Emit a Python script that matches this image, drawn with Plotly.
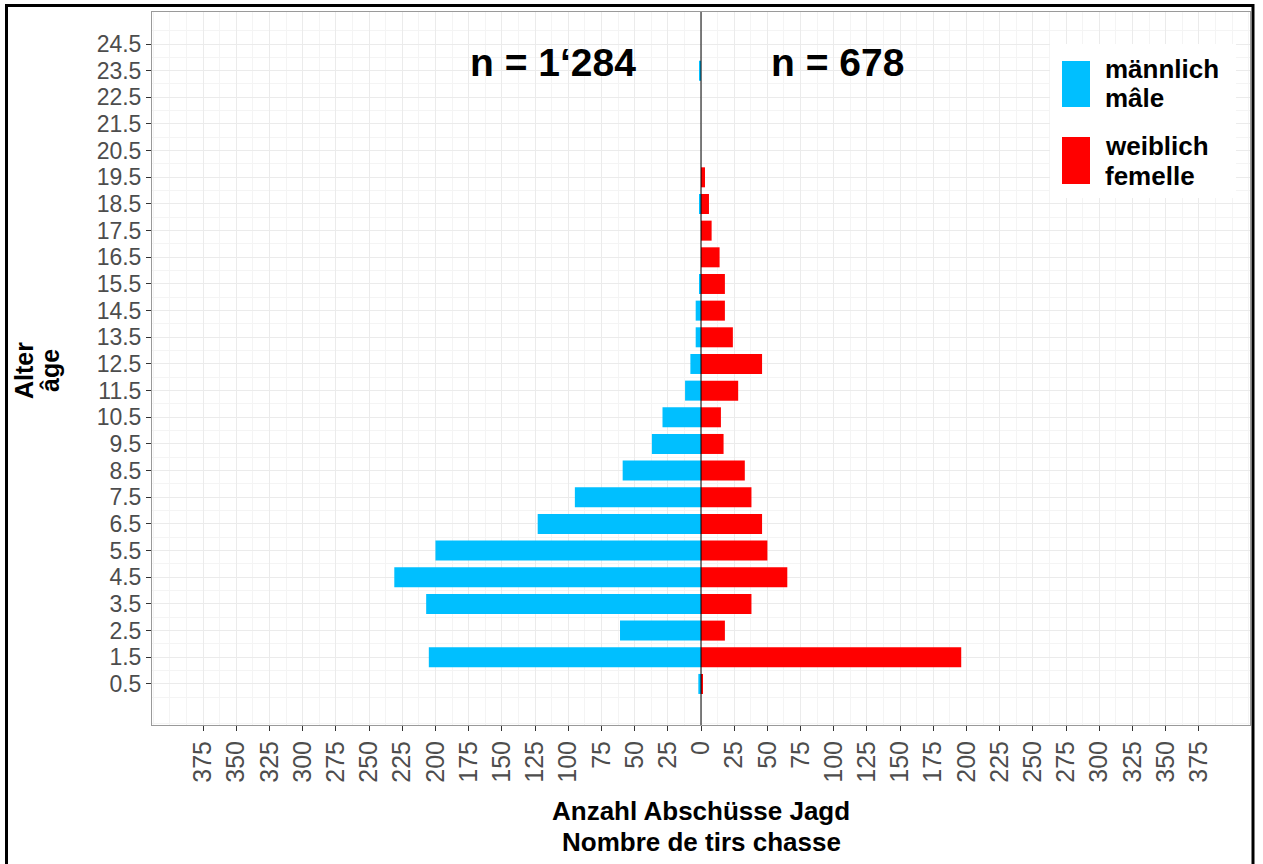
import plotly.graph_objects as go

ages = [0.5, 1.5, 2.5, 3.5, 4.5, 5.5, 6.5, 7.5, 8.5, 9.5, 10.5, 11.5, 12.5,
        13.5, 14.5, 15.5, 16.5, 17.5, 18.5, 19.5, 20.5, 21.5, 22.5, 23.5, 24.5]
male = [2, 205, 61, 207, 231, 200, 123, 95, 59, 37, 29, 12, 8,
        4, 4, 1, 0, 0, 1, 0, 0, 0, 0, 1, 0]
female = [1, 196, 18, 38, 65, 50, 46, 38, 33, 17, 15, 28, 46,
          24, 18, 18, 14, 8, 6, 3, 0, 0, 0, 0, 0]
x_ticks = list(range(-375, 400, 25))
x_ticktext = [str(abs(v)) for v in x_ticks]
y_ticktext = [f"{a:.1f}" for a in ages]
legend_lines = [["männlich", "mâle"], ["weiblich", "femelle"]]
colors = ["#00BFFF", "#FF0000"]
n_text = ["n = 1\u2018284", "n = 678"]
x_title = ["Anzahl Abschüsse Jagd", "Nombre de tirs chasse"]
y_title = ["Alter", "âge"]

FONT = "Liberation Sans, Arial, sans-serif"
W, H = 1263, 864
L, R, T, B = 152, 1250, 12, 725


def px(x):
    return (x - L) / (R - L)


def py(y):
    return (B - y) / (B - T)


fig = go.Figure()
fig.add_trace(go.Bar(y=ages, x=[-v for v in male], orientation="h", width=0.75,
                     marker=dict(color=colors[0], line=dict(width=0)),
                     name="männlich / mâle", showlegend=False))
fig.add_trace(go.Bar(y=ages, x=female, orientation="h", width=0.75,
                     marker=dict(color=colors[1], line=dict(width=0)),
                     name="weiblich / femelle", showlegend=False))

grid = "#EBEBEB"
fig.update_layout(
    width=W, height=H,
    margin=dict(l=L, r=W - R, t=T, b=H - B),
    paper_bgcolor="white", plot_bgcolor="white",
    barmode="overlay",
    font=dict(family=FONT, color="#4D4D4D"),
    xaxis=dict(range=[-413.5, 413.5], tickvals=x_ticks, ticktext=x_ticktext,
               tickangle=-90, tickfont=dict(size=25, color="#4D4D4D"),
               showgrid=True, gridcolor=grid, gridwidth=1,
               minor=dict(dtick=12.5, tick0=12.5, showgrid=True, gridcolor="#F4F4F4", gridwidth=1),
               ticks="outside", ticklen=5, tickcolor="#333333",
               showline=True, mirror=True, linecolor="#9A9A9A", linewidth=1,
               zeroline=False),
    yaxis=dict(range=[-1.04, 25.7], tickvals=ages, ticktext=y_ticktext,
               tickfont=dict(size=23, color="#4D4D4D"),
               showgrid=True, gridcolor=grid, gridwidth=1,
               minor=dict(dtick=1, tick0=0, showgrid=True, gridcolor="#F4F4F4", gridwidth=1),
               ticks="outside", ticklen=5, tickcolor="#333333",
               showline=True, mirror=True, linecolor="#9A9A9A", linewidth=1,
               zeroline=False),
)

shapes = []
# zero line
shapes.append(dict(type="line", xref="x", yref="paper", x0=0, x1=0, y0=0, y1=1,
                   line=dict(color="black", width=1), layer="above"))
# outer frame
shapes.append(dict(type="rect", xref="paper", yref="paper",
                   x0=px(6.5), x1=px(1253), y0=py(900), y1=py(5.5),
                   line=dict(color="black", width=3), fillcolor="rgba(0,0,0,0)", layer="above"))
# legend background
shapes.append(dict(type="rect", xref="paper", yref="paper",
                   x0=px(1050), x1=px(1236), y0=py(198), y1=py(44),
                   line=dict(width=0), fillcolor="white", layer="above"))
# legend keys
shapes.append(dict(type="rect", xref="paper", yref="paper",
                   x0=px(1062), x1=px(1090), y0=py(107), y1=py(61),
                   line=dict(width=0), fillcolor=colors[0], layer="above"))
shapes.append(dict(type="rect", xref="paper", yref="paper",
                   x0=px(1062), x1=px(1090), y0=py(184), y1=py(137),
                   line=dict(width=0), fillcolor=colors[1], layer="above"))
fig.update_layout(shapes=shapes)

ann = []
leg_y = [[69, 98], [146, 176]]
for lines, ys in zip(legend_lines, leg_y):
    for txt, yy in zip(lines, ys):
        ann.append(dict(xref="paper", yref="paper", x=px(1103), y=py(yy), xanchor="left", yanchor="middle",
                        text=f"<b>{txt}</b>", showarrow=False, align="left",
                        font=dict(size=26, color="black", family=FONT)))
ann.append(dict(xref="paper", yref="paper", x=px(553), y=py(63), xanchor="center", yanchor="middle",
                text=f"<b>{n_text[0]}</b>", showarrow=False,
                font=dict(size=39, color="black", family=FONT)))
ann.append(dict(xref="paper", yref="paper", x=px(837), y=py(63), xanchor="center", yanchor="middle",
                text=f"<b>{n_text[1]}</b>", showarrow=False,
                font=dict(size=39, color="black", family=FONT)))
for txt, yy in zip(x_title, [811, 842]):
    ann.append(dict(xref="paper", yref="paper", x=px(701), y=py(yy), xanchor="center", yanchor="middle",
                    text=f"<b>{txt}</b>", showarrow=False,
                    font=dict(size=26, color="black", family=FONT)))
for txt, xx in zip(y_title, [24, 50]):
    ann.append(dict(xref="paper", yref="paper", x=px(xx), y=py(371), xanchor="center", yanchor="middle",
                    text=f"<b>{txt}</b>", showarrow=False, textangle=-90,
                    font=dict(size=25, color="black", family=FONT)))
fig.update_layout(annotations=ann)

fig.write_html("out.html", config={"displayModeBar": False},
               post_script="document.body.style.margin='0';document.body.style.overflow='hidden';")
